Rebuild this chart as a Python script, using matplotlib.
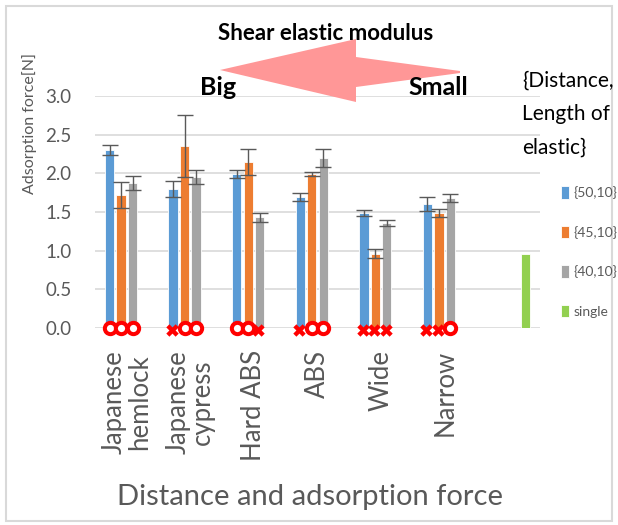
import numpy as np
import matplotlib
matplotlib.use("Agg")
import matplotlib.pyplot as plt
from matplotlib.patches import Polygon, Rectangle

plt.rcParams['font.family'] = ['Lato', 'DejaVu Sans']

# data
categories = ['Japanese\nhemlock', 'Japanese\ncypress', 'Hard ABS', 'ABS', 'Wide', 'Narrow', '']
series = ['{50,10}', '{45,10}', '{40,10}', 'single']
s50 = [2.30, 1.80, 1.99, 1.69, 1.49, 1.60, 0]
s45 = [1.72, 2.35, 2.15, 1.99, 0.96, 1.49, 0]
s40 = [1.87, 1.95, 1.43, 2.20, 1.36, 1.68, 0]
single = [0, 0, 0, 0, 0, 0, 0.96]
e50 = [0.06, 0.10, 0.05, 0.05, 0.04, 0.09, 0]
e45 = [0.17, 0.40, 0.17, 0.03, 0.06, 0.05, 0]
e40 = [0.09, 0.09, 0.06, 0.12, 0.04, 0.05, 0]
# red marks under the bars (O = ok, X = fail)
marks = ['OOO', 'XOO', 'OOX', 'XOO', 'XXX', 'XXO']

colors = ['#5B9BD5', '#ED7D31', '#A5A5A5', '#92D050']
W, H = 618, 525

fig = plt.figure(figsize=(6.18, 5.25), dpi=100)
ax = fig.add_axes([95/W, 1-328/H, 445/W, 232/H])

x = np.arange(len(categories))
slot = 0.18
bw = 0.148
vals = [s50, s45, s40, single]
errs = [e50, e45, e40, None]
handles = []
for i, (v, e) in enumerate(zip(vals, errs)):
    pos = x + (i - 1.5) * slot
    b = ax.bar(pos, v, bw, color=colors[i], edgecolor='white', linewidth=0.6, zorder=2)
    handles.append(b)
    if e is not None:
        ax.errorbar(pos[:6], v[:6], yerr=e[:6], fmt='none', ecolor='#595959',
                    elinewidth=1, capsize=6, capthick=1, zorder=3)

# red circles / crosses
for g, m in enumerate(marks):
    for i, c in enumerate(m):
        px = x[g] + (i - 1.5) * slot
        if c == 'O':
            ax.scatter(px, 0, s=66, marker='o', facecolor='white', edgecolor='#FF0000',
                       linewidths=2.9, zorder=5, clip_on=False)
        else:
            ax.scatter(px - 0.02, -0.03, s=80, marker='X', color='#FF0000',
                       linewidths=0, zorder=5, clip_on=False)

ax.set_xlim(-0.5, 6.5)
ax.set_ylim(0, 3.0)
ax.set_yticks(np.arange(0, 3.01, 0.5))
ax.set_yticklabels(['%.1f' % t for t in np.arange(0, 3.01, 0.5)])
ax.set_xticks(x)
ax.set_xticklabels(categories, rotation=90, va='top', ha='center', multialignment='center',
                   linespacing=1.0)
ax.tick_params(axis='y', length=0, pad=17, labelsize=13.5, labelcolor='#595959')
ax.tick_params(axis='x', length=0, pad=16, labelsize=18.5, labelcolor='#595959')
ax.grid(axis='y', color='#D9D9D9', linewidth=1.2, zorder=0)
ax.set_axisbelow(True)
for sp in ax.spines.values():
    sp.set_visible(False)

fig.text(30/W, 1-124/H, 'Adsorption force[N]', rotation=90, ha='center', va='center',
         fontsize=11.5, color='#595959')
fig.text(310/W, 1-497/H, 'Distance and adsorption force', ha='center', va='center',
         fontsize=21, color='#595959')

# big pink arrow
arrow = [(220, 70), (356, 39), (356, 57), (460, 71), (460, 73), (356, 87), (356, 102)]
fig.patches.append(Polygon([(px / W, 1 - py / H) for px, py in arrow], closed=True,
                           transform=fig.transFigure, facecolor='#FF9797',
                           edgecolor='none', zorder=1))
fig.text(326/W, 1-33/H, 'Shear elastic modulus', ha='center', va='center',
         fontsize=16, fontweight='bold', zorder=3)
fig.text(218/W, 1-88/H, 'Big', ha='center', va='center', fontsize=18, fontweight='bold', zorder=3)
fig.text(438/W, 1-88/H, 'Small', ha='center', va='center', fontsize=18, fontweight='bold', zorder=3)

fig.text(522/W, 1-114/H, '{Distance,\nLength of\nelastic}', ha='left', va='center',
         fontsize=15, linespacing=1.85)
fig.legend(handles, series, loc='center left', bbox_to_anchor=(548/W, 1-252/H),
           frameon=False, fontsize=10, labelcolor='#595959', handlelength=0.6,
           handleheight=1.0, handletextpad=0.35, labelspacing=1.9)

fig.patches.append(Rectangle((6/W, 4/H), (W-12)/W, (H-10)/H, transform=fig.transFigure,
                             facecolor='none', edgecolor='#D9D9D9', linewidth=1.5))

fig.savefig('out.png', dpi=100)
